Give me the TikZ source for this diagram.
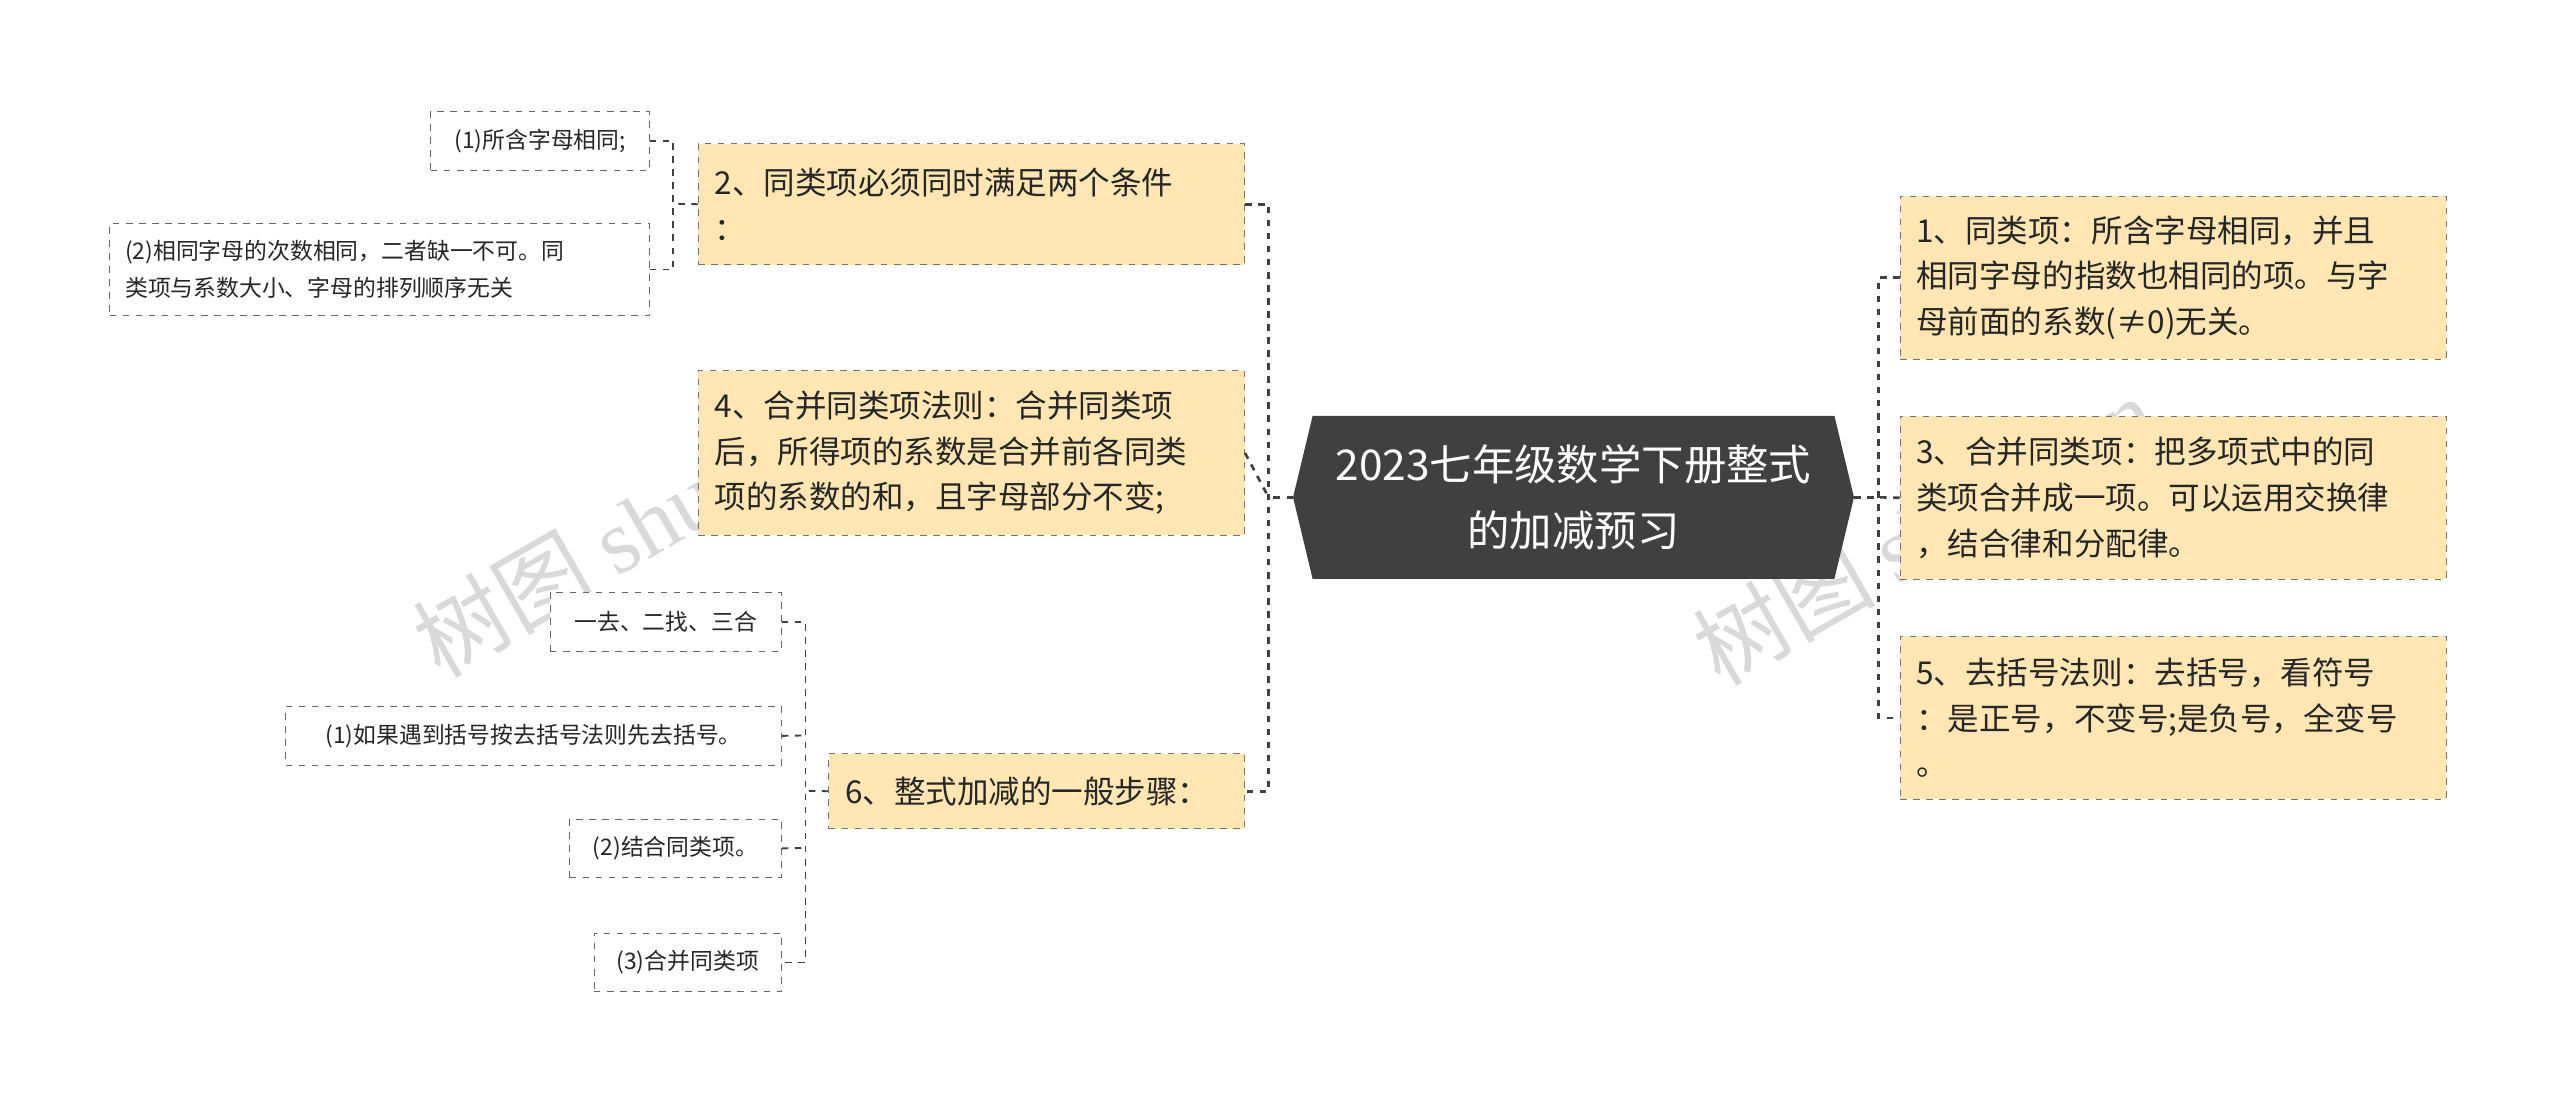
\documentclass[tikz,border=0pt]{standalone}
\usepackage{fontspec}
\setmainfont{Noto Sans CJK SC}
\newfontfamily\wmfont{Liberation Serif}
\usetikzlibrary{shapes.geometric}
\begin{document}
\begin{tikzpicture}[x=0.75pt,y=-0.75pt,
  lvl/.style={draw=black!55,dashed,fill={rgb,255:red,255;green,230;blue,178},font=\fontsize{14.5}{21}\selectfont,align=left,inner xsep=7.5pt,inner ysep=0pt,anchor=north west,text=black!85},
  leaf/.style={draw=black!60,dashed,fill=white,font=\fontsize{10.5}{17}\selectfont,align=left,inner xsep=7pt,inner ysep=0pt,anchor=north west,text=black!85},
  conn/.style={draw=black!75,dashed,line width=1.2pt},
  wm/.style={rotate=30,text=black!15,font=\fontsize{42}{42}\selectfont}]
\useasboundingbox (0,0) rectangle (1570,676.5);
% watermarks
\node[wm] (wm1) at (395,320) {树图 {\wmfont shutu.cn}};
\node[wm] (wm2) at (1180,325) {树图 {\wmfont shutu.cn}};
% center
\fill[black!75] (793,305) -- (805,255) -- (1125,255) -- (1137,305) -- (1125,355) -- (805,355) -- cycle;
\node[text=white,font=\fontsize{19.5}{30}\selectfont,align=center] (c) at (965,305) {2023七年级数学下册整式\\的加减预习};
\coordinate (cl) at (793,305); \coordinate (cr) at (1137,305);
% right
\node[lvl,minimum width=335*0.75pt,minimum height=100*0.75pt,text width=315*0.75pt] (n1) at (1165,120) {1、同类项：所含字母相同，并且\\相同字母的指数也相同的项。与字\\母前面的系数(≠0)无关。};
\node[lvl,minimum width=335*0.75pt,minimum height=100*0.75pt,text width=315*0.75pt] (n3) at (1165,255) {3、合并同类项：把多项式中的同\\类项合并成一项。可以运用交换律\\，结合律和分配律。};
\node[lvl,minimum width=335*0.75pt,minimum height=100*0.75pt,text width=315*0.75pt] (n5) at (1165,390) {5、去括号法则：去括号，看符号\\：是正号，不变号;是负号，全变号\\。};
\draw[conn] (cr) -- (1152,305);
\draw[conn] (n1.west) -| (1152,305) |- (n5.west);
\draw[conn] (n3.west) -- (1152,305);
% left
\node[lvl,minimum width=335*0.75pt,minimum height=74*0.75pt,text width=315*0.75pt] (n2) at (428,88) {2、同类项必须同时满足两个条件\\：};
\node[lvl,minimum width=335*0.75pt,minimum height=101*0.75pt,text width=315*0.75pt] (n4) at (428,227) {4、合并同类项法则：合并同类项\\后，所得项的系数是合并前各同类\\项的系数的和，且字母部分不变;};
\node[lvl,minimum width=255*0.75pt,minimum height=46*0.75pt,text width=235*0.75pt] (n6) at (508,462) {6、整式加减的一般步骤：};
\draw[conn] (cl) -- (778,305);
\draw[conn] (n2.east) -| (778,305) |- (n6.east);
\draw[conn] (n4.east) -- (778,305);
% leaves of 2
\node[leaf,minimum width=134*0.75pt,minimum height=36*0.75pt] (a1) at (264,68) {(1)所含字母相同;};
\node[leaf,minimum width=331*0.75pt,minimum height=56*0.75pt,text width=312*0.75pt] (a2) at (67,137) {(2)相同字母的次数相同，二者缺一不可。同\\类项与系数大小、字母的排列顺序无关};
\draw[conn,line width=0.9pt] (n2.west) -- (413,125);
\draw[conn,line width=0.9pt] (a1.east) -| (413,125) |- (a2.east);
% leaves of 6
\node[leaf,minimum width=142*0.75pt,minimum height=36*0.75pt] (b0) at (337,363) {一去、二找、三合};
\node[leaf,minimum width=304*0.75pt,minimum height=36*0.75pt] (b1) at (175,433) {(1)如果遇到括号按去括号法则先去括号。};
\node[leaf,minimum width=130*0.75pt,minimum height=36*0.75pt] (b2) at (349,502) {(2)结合同类项。};
\node[leaf,minimum width=115*0.75pt,minimum height=36*0.75pt] (b3) at (364,572) {(3)合并同类项};
\draw[conn,line width=0.9pt] (n6.west) -- (494,485);
\draw[conn,line width=0.9pt] (b0.east) -| (494,485) |- (b3.east);
\draw[conn,line width=0.9pt] (b1.east) -- (494,451);
\draw[conn,line width=0.9pt] (b2.east) -- (494,520);
\end{tikzpicture}
\end{document}
